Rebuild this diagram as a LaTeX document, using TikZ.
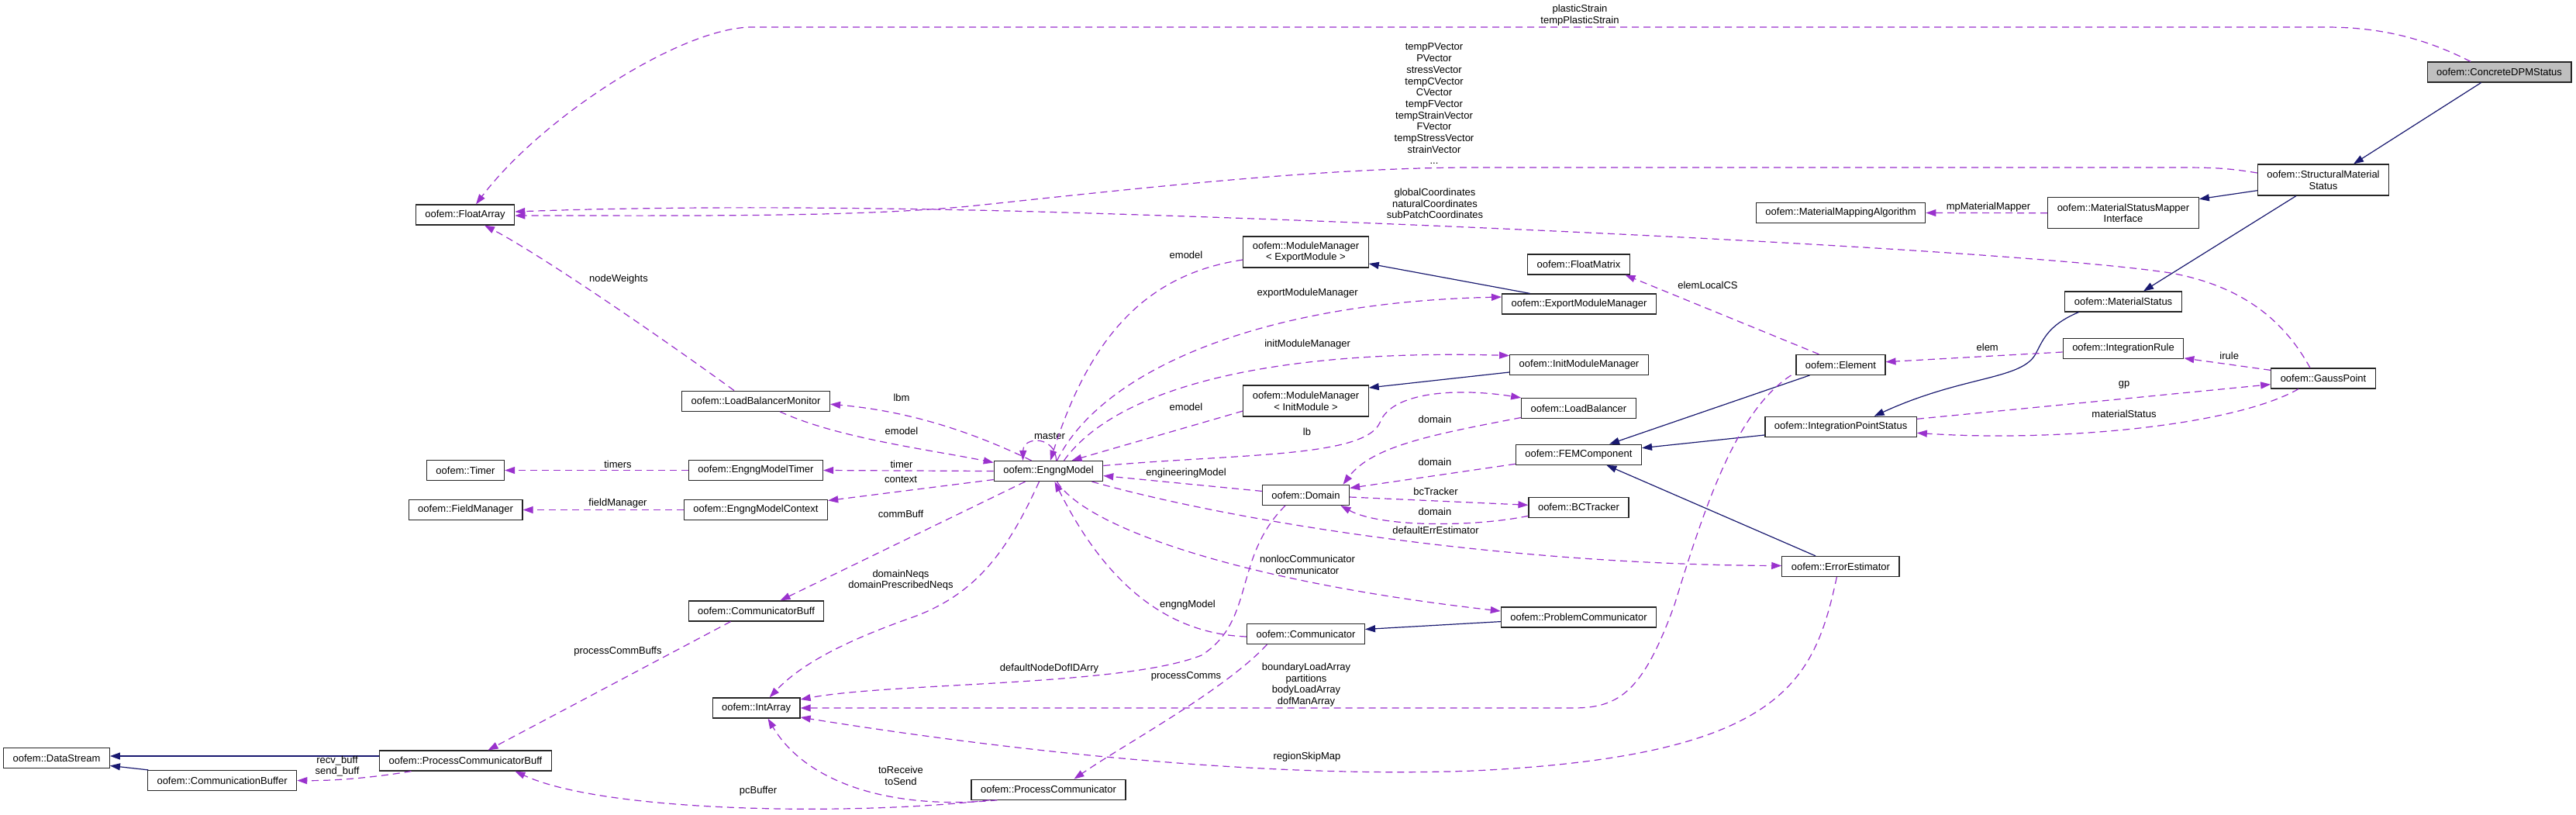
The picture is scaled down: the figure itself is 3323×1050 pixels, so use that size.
\documentclass[tikz,border=0pt]{standalone}
\usepackage{fontspec}
\setmainfont{Liberation Sans}
\usetikzlibrary{arrows.meta}

\definecolor{depcol}{HTML}{9A32CD}
\definecolor{inhcol}{HTML}{191970}

\tikzset{
  cls/.style={draw=black!85, line width=1.2pt, fill=white, font=\fontsize{13pt}{14.7pt}\selectfont, inner xsep=12pt, minimum height=26pt, align=center},
  tall/.style={minimum height=40pt},
  cur/.style={fill=black!25},
  dep/.style={draw=depcol, line width=1.2pt, dash pattern=on 9pt off 6pt, -{Triangle[length=13pt,width=9pt]}},
  inh/.style={draw=inhcol, line width=1.2pt, -{Triangle[length=13pt,width=9pt]}},
  lbl/.style={font=\fontsize{13pt}{14.7pt}\selectfont, inner sep=0pt, align=center}
}

\begin{document}
\begin{tikzpicture}[x=1pt,y=-1pt]
\path[fill=white, use as bounding box] (0,0) rectangle (3323,1050);

% classes
\node[cls,cur](cdpm) at (3224,93) {oofem::ConcreteDPMStatus};
\node[cls,tall](sms) at (2997,232) {oofem::StructuralMaterial\\Status};
\node[cls,tall](msmi) at (2739,274.7) {oofem::MaterialStatusMapper\\Interface};
\node[cls](mma) at (2374.6,274.5) {oofem::MaterialMappingAlgorithm};
\node[cls](ms) at (2739,389) {oofem::MaterialStatus};
\node[cls](ir) at (2739,449.3) {oofem::IntegrationRule};
\node[cls](gp) at (2997,488) {oofem::GaussPoint};
\node[cls](ips) at (2374.6,550.3) {oofem::IntegrationPointStatus};
\node[cls](elem) at (2374.4,470.4) {oofem::Element};
\node[cls](ee) at (2374.4,730.5) {oofem::ErrorEstimator};
\node[cls](fem) at (2036.4,586.3) {oofem::FEMComponent};
\node[cls](fmat) at (2036.5,341) {oofem::FloatMatrix};
\node[cls](emm) at (2037,392) {oofem::ExportModuleManager};
\node[cls](imm) at (2037,470.5) {oofem::InitModuleManager};
\node[cls](lb) at (2036.5,526.5) {oofem::LoadBalancer};
\node[cls](bct) at (2036.5,654.3) {oofem::BCTracker};
\node[cls](pc) at (2036.5,796) {oofem::ProblemCommunicator};
\node[cls,tall](mme) at (1684.5,325) {oofem::ModuleManager\\< ExportModule >};
\node[cls,tall](mmi) at (1684.5,517) {oofem::ModuleManager\\< InitModule >};
\node[cls](dom) at (1684.5,638.4) {oofem::Domain};
\node[cls](comm) at (1684.5,817.5) {oofem::Communicator};
\node[cls](em) at (1352.5,607.5) {oofem::EngngModel};
\node[cls](proc) at (1352.5,1018.2) {oofem::ProcessCommunicator};
\node[cls](lbm) at (975,517.2) {oofem::LoadBalancerMonitor};
\node[cls](emt) at (975,606.5) {oofem::EngngModelTimer};
\node[cls](emc) at (975,657.5) {oofem::EngngModelContext};
\node[cls](cb) at (975.5,788) {oofem::CommunicatorBuff};
\node[cls](ia) at (975.6,913) {oofem::IntArray};
\node[cls](fa) at (600,277) {oofem::FloatArray};
\node[cls](tim) at (600.5,606.5) {oofem::Timer};
\node[cls](fm) at (600.6,657.5) {oofem::FieldManager};
\node[cls](pcb) at (600.5,981) {oofem::ProcessCommunicatorBuff};
\node[cls](ds) at (73,977.4) {oofem::DataStream};
\node[cls](cbuf) at (286.6,1006.5) {oofem::CommunicationBuffer};

% inheritance
\draw[inh] ([xshift=-23.4pt]cdpm.south) -- ([xshift=39pt]sms.north);
\draw[inh] ([yshift=-13.7pt]sms.west) -- ([yshift=18pt]msmi.east);
\draw[inh] ([xshift=-35pt]sms.south) -- ([xshift=26pt]ms.north);
\draw[inh] ([xshift=-57.6pt]ms.south) .. controls (2640,420) and (2635,440) .. (2625,458) .. controls (2605,490) and (2530,485) .. ([xshift=43pt]ips.north);
\draw[inh] ([xshift=-40pt]elem.south) -- ([xshift=39.6pt]fem.north);
\draw[inh] ([yshift=-10.7pt]ips.west) -- ([yshift=8.6pt]fem.east);
\draw[inh] ([xshift=-32.4pt]ee.north) -- ([xshift=36pt]fem.south);
\draw[inh] ([xshift=-63.4pt]emm.north) -- ([yshift=-15pt]mme.east);
\draw[inh] ([yshift=-9.5pt]imm.west) -- ([yshift=17pt]mmi.east);
\draw[inh] ([yshift=-5.6pt]pc.west) -- ([yshift=6pt]comm.east);
\draw[inh] ([yshift=6pt]pcb.west) -- ([yshift=2.4pt]ds.east);
\draw[inh] ([xshift=1.4pt]cbuf.north west) -- ([yshift=-10pt]ds.east);

% usage
\draw[dep] ([xshift=-37pt]cdpm.north) .. controls (3120,45) and (3060,35) .. (3000,35) -- (970,35) .. controls (880,35) and (700,150) .. ([xshift=14pt]fa.north);
\node[lbl](lPlastic) at (2038,19.5) {plasticStrain\\tempPlasticStrain};
\draw[dep] ([yshift=9pt]sms.west) .. controls (2870,216) and (2850,216) .. (2800,216) -- (1900,216) .. controls (1700,216) and (1450,245) .. (1250,266) .. controls (1100,280) and (900,278) .. ([yshift=-1pt]fa.east);
\node[lbl](lVectors) at (1850,134) {tempPVector\\PVector\\stressVector\\tempCVector\\CVector\\tempFVector\\tempStrainVector\\FVector\\tempStressVector\\strainVector\\...};
\draw[dep] ([xshift=-17pt]gp.north) .. controls (2950,420) and (2900,370) .. (2800,352) .. controls (2600,322) and (1800,285) .. (1300,272) .. controls (1000,265) and (800,268) .. ([yshift=4pt]fa.east);
\node[lbl](lCoords) at (1851,262.5) {globalCoordinates\\naturalCoordinates\\subPatchCoordinates};
\draw[dep] (msmi.west) -- (mma.east);
\node[lbl](lMapper) at (2565,266.7) {mpMaterialMapper};
\draw[dep] ([xshift=-28pt]elem.north) -- ([xshift=60pt]fmat.south);
\node[lbl](lLocalCS) at (2203,368) {elemLocalCS};
\draw[dep] ([yshift=-4.7pt]ir.west) -- ([yshift=3.7pt]elem.east);
\node[lbl](lElem) at (2563.7,447.7) {elem};
\draw[dep] ([yshift=-3pt]gp.north west) -- ([yshift=1pt]ir.south east);
\node[lbl](lIrule) at (2875.7,459) {irule};
\draw[dep] ([yshift=10pt]ips.east) -- ([yshift=-7.7pt]gp.west);
\node[lbl](lGp) at (2740,496.7) {gp};
\draw[dep] ([xshift=-32pt]gp.south) .. controls (2880,550) and (2650,570) .. ([yshift=-8pt]ips.east);
\node[lbl](lMatStat) at (2740,534.3) {materialStatus};
\draw[dep] ([xshift=-64pt]elem.south) .. controls (2240,530) and (2200,650) .. (2160,780) .. controls (2120,890) and (2090,913) .. (2030,913) -- (ia.east);
\node[lbl](lLoads) at (1685,883) {boundaryLoadArray\\partitions\\bodyLoadArray\\dofManArray};
\draw[dep] ([xshift=-5pt]ee.south) .. controls (2340,880) and (2300,975) .. (1900,994) .. controls (1600,1005) and (1250,960) .. ([yshift=-12pt]ia.east);
\node[lbl](lSkip) at (1686,976) {regionSkipMap};
\draw[dep] ([xshift=56pt]em.south) .. controls (1600,675) and (1950,728) .. ([yshift=1pt]ee.west);
\node[lbl](lErrEst) at (1852,683.4) {defaultErrEstimator};
\draw[dep] ([xshift=11pt]em.south) .. controls (1400,680) and (1600,750) .. ([yshift=8pt]pc.west);
\node[lbl](lNonloc) at (1686.5,728) {nonlocCommunicator\\communicator};
\draw[dep] ([yshift=-3.5pt]comm.west) .. controls (1530,818) and (1440,780) .. ([xshift=8pt]em.south);
\node[lbl](lEngng) at (1532,780.6) {engngModel};
\draw[dep] ([xshift=-30pt]em.south) -- ([xshift=31pt]cb.north);
\node[lbl](lCommBuff) at (1162,662.4) {commBuff};
\draw[dep] ([xshift=-12pt]em.south) .. controls (1300,710) and (1260,765) .. (1180,795) .. controls (1080,830) and (1030,860) .. ([xshift=17pt]ia.north);
\node[lbl](lNeqs) at (1162,748) {domainNeqs\\domainPrescribedNeqs};
\draw[dep] ([xshift=-26.5pt]dom.south) .. controls (1590,720) and (1620,800) .. (1550,845) .. controls (1450,885) and (1150,880) .. ([yshift=11pt]ia.east);
\node[lbl](lDofID) at (1353.5,862.3) {defaultNodeDofIDArry};
\draw[dep] ([xshift=-50pt]comm.south) .. controls (1580,890) and (1450,960) .. ([xshift=33pt]proc.north);
\node[lbl](lComms) at (1530,871.8) {processComms};
\draw[dep] ([xshift=-66pt]proc.south) .. controls (1150,1045) and (1040,1010) .. ([xshift=15pt]ia.south);
\node[lbl](lSend) at (1162,1000) {toReceive\\toSend};
\draw[dep] ([xshift=-76pt]proc.south) .. controls (1100,1052) and (780,1048) .. ([xshift=64pt]pcb.south);
\node[lbl](lPcBuf) at (978,1020.5) {pcBuffer};
\draw[dep] ([xshift=-33pt]cb.south) -- ([xshift=29pt]pcb.north);
\node[lbl](lProcBuffs) at (797,840.2) {processCommBuffs};
\draw[dep] ([xshift=-70pt]pcb.south) .. controls (480,1003) and (430,1007) .. (cbuf.east);
\node[lbl](lRecv) at (435,988) {recv\_buff\\send\_buff};
\draw[dep] ([xshift=-22pt]em.north) .. controls (1250,555) and (1170,530) .. ([yshift=-4pt]lbm.east);
\node[lbl](lLbm) at (1163,512.6) {lbm};
\draw[dep] ([xshift=31pt]lbm.south) .. controls (1080,565) and (1200,580) .. ([yshift=11pt]em.west);
\node[lbl](lEmodelA) at (1163,555.4) {emodel};
\draw[dep] (em.west) -- (emt.east);
\node[lbl](lTimer) at (1163,598.6) {timer};
\draw[dep] ([yshift=-11pt]em.west) -- ([yshift=12pt]emc.east);
\node[lbl](lContext) at (1162,618.6) {context};
\draw[dep] (emt.west) -- (tim.east);
\node[lbl](lTimers) at (797,598.6) {timers};
\draw[dep] (emc.west) -- (fm.east);
\node[lbl](lField) at (797,648.7) {fieldManager};
\draw[dep] ([xshift=-28pt]lbm.north) .. controls (860,440) and (700,330) .. ([xshift=25pt]fa.south);
\node[lbl](lWeights) at (798,360) {nodeWeights};
\draw[dep] ([xshift=10pt]em.north) .. controls (1362,562) and (1320,562) .. ([xshift=-33pt]em.north);
\node[lbl](lMaster) at (1354,562.7) {master};
\draw[dep] ([yshift=-10pt]mme.west) .. controls (1490,352) and (1410,420) .. ([xshift=2.5pt]em.north);
\node[lbl](lEmodelB) at (1530,328.7) {emodel};
\draw[dep] ([xshift=11pt]em.north) .. controls (1420,480) and (1620,390) .. ([yshift=9pt]emm.west);
\node[lbl](lExport) at (1686.6,378.3) {exportModuleManager};
\draw[dep] ([xshift=20pt]em.north) .. controls (1440,500) and (1640,450) .. ([yshift=12pt]imm.west);
\node[lbl](lInit) at (1686.6,443.7) {initModuleManager};
\draw[dep] ([yshift=-13pt]mmi.west) -- ([xshift=30pt]em.north);
\node[lbl](lEmodelC) at (1530,524.7) {emodel};
\draw[dep] ([yshift=7pt]em.east) .. controls (1600,585) and (1760,590) .. (1780,545) .. controls (1795,505) and (1880,500) .. (lb.north west);
\node[lbl](lLb) at (1686,556.5) {lb};
\draw[dep] ([yshift=5pt]dom.west) -- ([yshift=-6pt]em.east);
\node[lbl](lEngineering) at (1530,610.3) {engineeringModel};
\draw[dep] ([yshift=-12pt]lb.west) .. controls (1850,560) and (1770,575) .. ([xshift=48pt]dom.north);
\node[lbl](lDomA) at (1851,540.7) {domain};
\draw[dep] ([yshift=-12pt]fem.west) -- ([yshift=9pt]dom.east);
\node[lbl](lDomB) at (1851,595.4) {domain};
\draw[dep] ([yshift=-2.6pt]dom.east) -- ([yshift=3pt]bct.west);
\node[lbl](lBc) at (1852,634.3) {bcTracker};
\draw[dep] ([yshift=-11pt]bct.west) .. controls (1900,680) and (1780,680) .. ([xshift=45pt]dom.south);
\node[lbl](lDomC) at (1851,659.6) {domain};
\end{tikzpicture}
\end{document}
